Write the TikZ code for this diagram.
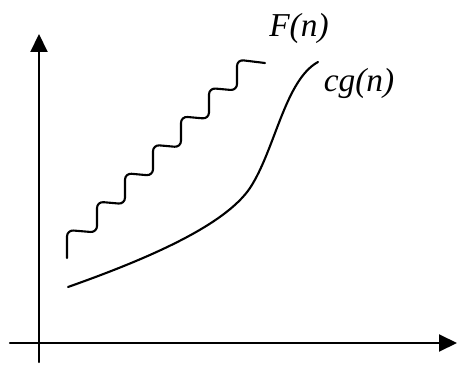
\documentclass[tikz,border=0pt]{standalone}
\usepackage{fontspec}
\setmainfont{Liberation Serif}
\usetikzlibrary{arrows.meta}

\begin{document}
\begin{tikzpicture}[
    x=0.02cm,
    y=-0.02cm,
    line join=round,
    line cap=round,
    axis/.style={line width=1.2pt, -{Triangle[length=0.36cm,width=0.34cm]}},
    curve/.style={line width=1.2pt},
    label/.style={font=\fontsize{19}{22}\selectfont\itshape, inner sep=0pt}
]

\useasboundingbox (0,0) rectangle (458,369);

% -------------------------------------------------
% Axes
% -------------------------------------------------
\draw[axis] (39,362) -- (39,34);
\draw[axis] (10,343) -- (457,343);

% -------------------------------------------------
% Wavy curve F(n)
% -------------------------------------------------
\def\Sx{28}
\def\Sy{28.4}

\draw[curve, rounded corners=1.3mm] (67,258) -- (67,230)
    \foreach \k [evaluate=\k as \xv using 97+\Sx*\k,
                 evaluate=\k as \yv using 230-\Sy*\k] in {0,...,5} {
        -- (\xv,\yv+2.5) -- (\xv,\yv-\Sy)
    }
    -- (265,63);

% -------------------------------------------------
% Smooth curve cg(n)
% -------------------------------------------------
\draw[curve] (68,287)
    .. controls (150,258) and (225,225) .. (250,188)
    .. controls (275,150) and (285,80) .. (318,62);

% -------------------------------------------------
% Labels
% -------------------------------------------------
\node[label] (Fn)  at (299,28)   {F(n)};
\node[label] (cgn) at (359,83.5) {cg(n)};

\end{tikzpicture}
\end{document}
